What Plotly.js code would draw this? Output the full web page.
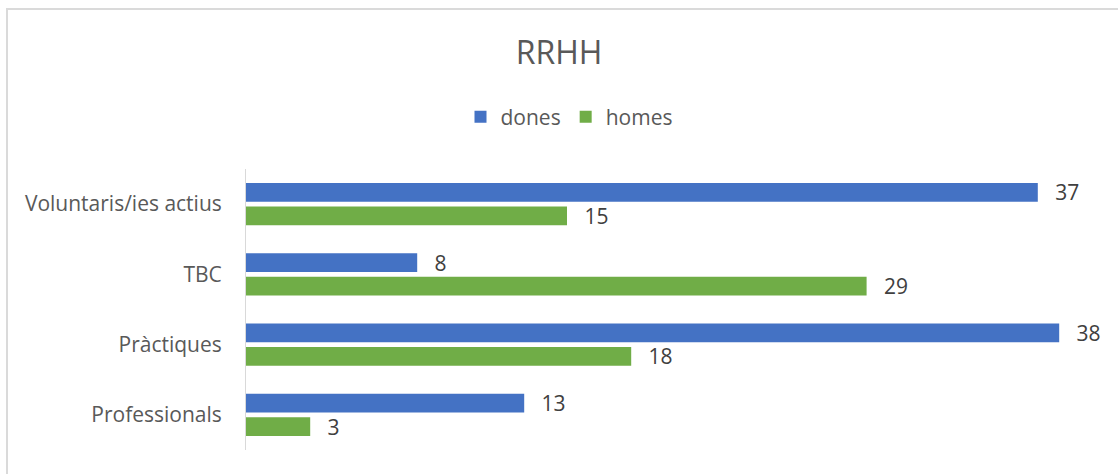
<!DOCTYPE html>
<html>
<head>
<meta charset="utf-8">
<script src="https://cdn.plot.ly/plotly-3.0.1.min.js"></script>
<style>
  html, body { margin: 0; padding: 0; background: #ffffff; }
  #wrap { position: relative; width: 1118px; height: 474px; }
  #chart { position: absolute; left: 0; top: 0; width: 1118px; height: 474px; }
  #frame { position: absolute; left: 6px; top: 8px; width: 1120px; height: 480px;
           border-left: 2px solid #dadada; border-top: 2px solid #dadada; pointer-events: none; }
</style>
</head>
<body>
<div id="wrap">
  <div id="chart"></div>
  <div id="frame"></div>
</div>
<script>
const categories = ['Voluntaris/ies actius', 'TBC', 'Pràctiques', 'Professionals'];
const dones = [37, 8, 38, 13];
const homes = [15, 29, 18, 3];
const seriesNames = ['dones', 'homes'];
const colors = ['#4472C4', '#70AD47'];

const FONT = '"Open Sans", "Noto Sans", "DejaVu Sans", sans-serif';
const pad = '\u00a0\u00a0\u2009';

function trace(name, vals, color) {
  return {
    type: 'bar',
    orientation: 'h',
    name: name,
    y: categories,
    x: vals,
    marker: { color: color, line: { width: 0 } },
    text: vals.map(String),
    texttemplate: pad + '%{text}',
    textposition: 'outside',
    constraintext: 'none',
    textfont: { family: FONT, size: 21, color: '#404040' },
    cliponaxis: false,
    hoverinfo: 'x+y'
  };
}

const data = [
  trace(seriesNames[0], dones, colors[0]),
  trace(seriesNames[1], homes, colors[1])
];

const layout = {
  width: 1118,
  height: 474,
  margin: { l: 246, r: 16, t: 169, b: 24, pad: 0 },
  paper_bgcolor: 'rgba(0,0,0,0)',
  plot_bgcolor: 'rgba(0,0,0,0)',
  font: { family: FONT, color: '#595959' },
  title: {
    text: 'RRHH',
    font: { family: FONT, size: 32, color: '#595959' },
    xref: 'container', x: 0.5, xanchor: 'center',
    yref: 'container', y: 1 - 53 / 474, yanchor: 'middle'
  },
  showlegend: true,
  legend: {
    orientation: 'h',
    xref: 'container', x: 0.5 + 10 / 1118, xanchor: 'center',
    yref: 'container', y: 1 - 117 / 474, yanchor: 'middle',
    font: { family: FONT, size: 21, color: '#595959' },
    itemwidth: 30,
    traceorder: 'normal'
  },
  barmode: 'group',
  bargap: 0.33,
  bargroupgap: 0.21,
  xaxis: {
    range: [0, 40],
    showticklabels: false,
    showgrid: false,
    zeroline: false,
    showline: false,
    ticks: ''
  },
  yaxis: {
    type: 'category',
    autorange: 'reversed',
    showline: true,
    linecolor: '#d9d9d9',
    linewidth: 1,
    showgrid: false,
    zeroline: false,
    ticks: '',
    ticklabelstandoff: 19,
    tickfont: { family: FONT, size: 21, color: '#595959' }
  }
};

Plotly.newPlot('chart', data, layout, { displayModeBar: false, staticPlot: true });
</script>
</body>
</html>
